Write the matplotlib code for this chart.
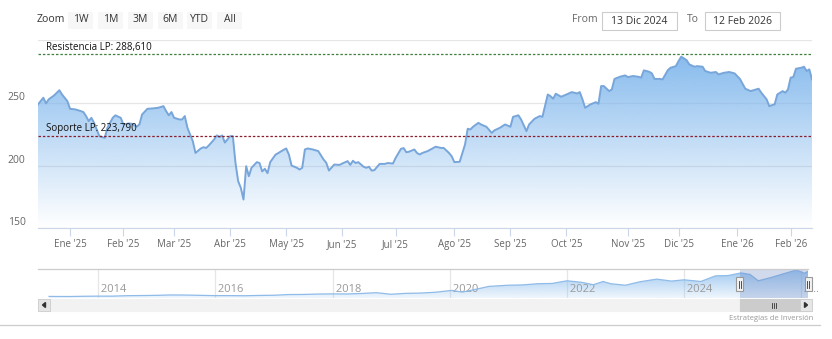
# -*- coding: utf-8 -*-
import matplotlib.pyplot as plt
import matplotlib.dates as mdates
from matplotlib.patches import Rectangle, Polygon
from matplotlib.lines import Line2D
from matplotlib.colors import to_rgb
import numpy as np
import pandas as pd

plt.rcParams['font.family'] = ['Open Sans', 'DejaVu Sans']

W, H = 832, 339

# ventana visible: sesiones bursátiles desde el 13 Dic 2024
start_date = '2024-12-13'
holidays = ['2024-12-25', '2025-01-01', '2025-01-09', '2025-01-20', '2025-02-17',
            '2025-04-18', '2025-05-26', '2025-06-19', '2025-07-04', '2025-09-01',
            '2025-11-27', '2025-12-25', '2026-01-01', '2026-01-19']

# número de sesión (0 = 13 Dic 2024) y cierre
session = [0, 2, 3, 4, 6, 8, 9, 11,                                   # dic
           12, 14, 16, 17, 18, 19, 20, 21, 22, 23, 25, 26, 28, 29, 31,   # ene
           32, 34, 35, 37, 38, 39, 41, 43, 45, 47, 48, 49, 50,           # feb
           51, 53, 54, 55, 56, 58, 59, 61, 62, 63, 64, 66, 67, 68, 69, 70,  # mar
           72, 73, 74, 75, 76, 77, 78, 79, 80, 82, 83, 84, 85, 86, 87, 89, 90, 92,  # abr
           93, 94, 95, 97, 98, 99, 100, 101, 103, 105, 107, 108, 109, 111,  # may
           113, 114, 116, 117, 118, 119, 120, 122, 123, 124, 125, 126, 128, 130, 131, 133,  # jun
           134, 136, 137, 138, 139, 141, 142, 143, 144, 146, 149, 151, 152, 154, 155,  # jul
           156, 158, 160, 161, 162, 163, 165, 166, 168, 170, 171, 173, 175,  # ago
           177, 178, 180, 181, 183, 184, 186, 188, 189, 191, 192, 193, 194, 196,  # sep
           198, 200, 202, 203, 204, 205, 207, 209, 210, 211, 212, 214, 215, 216, 218,  # oct
           220, 221, 223, 225, 226, 227, 229, 230, 231, 233, 234, 236, 237, 239,  # nov
           240, 241, 243, 244, 246, 247, 249, 250, 252, 254, 255, 257, 259, 261,  # dic
           263, 265, 267, 270, 271, 273, 274, 275, 276, 277, 279, 280, 281,  # ene
           282, 283, 284, 286, 287, 288, 289, 290]                        # feb
close = [248.7, 254.0, 249.5, 252.7, 255.8, 260.0, 256.6, 251.3,
         245.2, 244.7, 243.4, 242.6, 239.4, 235.4, 238.0, 234.0, 228.7, 223.4, 222.0, 230.0, 238.0, 240.0, 238.0,
         232.7, 233.5, 233.3, 231.0, 232.7, 240.7, 245.2, 245.5, 246.0, 247.3, 243.4, 240.0, 242.6,
         238.0, 236.7, 236.7, 239.4, 230.0, 219.4, 210.0, 213.6, 214.6, 214.0, 216.0, 220.8, 224.0, 222.7, 224.0, 218.3,
         223.4, 223.4, 202.0, 187.5, 182.2, 172.9, 199.5, 191.5, 198.2, 202.7, 202.0, 195.3, 197.4, 193.9, 202.7, 208.7, 209.9, 212.5,
         213.6, 208.8, 200.0, 198.2, 196.8, 198.2, 212.8, 213.6, 212.8, 211.5, 204.8, 202.2, 196.0, 200.8,
         200.5, 201.6, 203.5, 200.5, 203.8, 202.0, 202.7, 199.0, 198.2, 199.0, 196.0, 196.3, 201.3, 201.3, 202.0, 201.6,
         206.1, 213.3, 213.9, 210.6, 211.0, 212.8, 210.0, 208.8, 210.0, 211.5, 215.0, 214.0, 214.0, 210.0, 207.4,
         202.7, 203.0, 216.8, 229.3, 228.7, 230.9, 234.0, 232.7, 230.9, 226.0, 228.0, 230.0, 232.7,
         230.9, 238.8, 240.0, 236.7, 227.4, 232.7, 237.2, 239.4, 238.8, 256.6, 255.3, 253.2, 257.2, 254.8,
         256.6, 258.5, 257.4, 258.5, 252.7, 246.0, 248.7, 250.5, 249.2, 263.3, 263.3, 259.3, 260.6, 269.0, 270.7,
         271.8, 270.5, 271.3, 270.7, 270.0, 275.8, 274.7, 273.4, 269.0, 269.0, 268.6, 276.0, 277.9, 279.2,
         283.2, 286.7, 284.0, 280.6, 278.7, 279.2, 278.7, 275.3, 273.9, 274.5, 272.6, 273.9, 274.5, 273.4,
         269.0, 261.2, 259.3, 261.2, 258.0, 252.7, 247.3, 248.1, 248.7, 256.6, 259.3, 258.0, 260.6,
         270.0, 270.5, 277.1, 277.9, 278.7, 275.3, 276.6, 268.6]

resistance = 288.61
support = 223.79

month_starts = ['2025-01-01', '2025-02-01', '2025-03-01', '2025-04-01', '2025-05-01',
                '2025-06-01', '2025-07-01', '2025-08-01', '2025-09-01', '2025-10-01',
                '2025-11-01', '2025-12-01', '2026-01-01', '2026-02-01']
month_labels = ["Ene '25", "Feb '25", "Mar '25", "Abr '25", "May '25", "Jun '25", "Jul '25",
                "Ago '25", "Sep '25", "Oct '25", "Nov '25", "Dic '25", "Ene '26", "Feb '26"]

# navegador: histórico completo
nav_dates = ['2013-03-01', '2013-07-01', '2013-10-01', '2014-01-01', '2014-04-01', '2014-07-01',
             '2014-10-01', '2015-01-01', '2015-04-01', '2015-07-01', '2015-10-01', '2016-01-01',
             '2016-04-01', '2016-07-01', '2016-10-01', '2017-01-01', '2017-04-01', '2017-07-01',
             '2017-10-01', '2018-01-01', '2018-04-01', '2018-07-01', '2018-10-01', '2019-01-01',
             '2019-04-01', '2019-07-01', '2019-10-01', '2020-01-15', '2020-03-20', '2020-07-01',
             '2020-09-01', '2021-01-01', '2021-04-01', '2021-07-01', '2021-10-01', '2022-01-01',
             '2022-04-01', '2022-06-15', '2022-08-15', '2022-10-01', '2023-01-01', '2023-04-01',
             '2023-07-15', '2023-10-15', '2024-01-01', '2024-04-15', '2024-07-15', '2024-10-01',
             '2024-12-20', '2025-02-15', '2025-04-08', '2025-07-01', '2025-09-20', '2025-12-02',
             '2026-01-20', '2026-02-12']
nav_close = [16, 15, 17.5, 19, 19, 23.5, 25, 27, 31, 30, 27, 24, 24, 23, 26, 28, 35, 36,
             40, 42, 41, 46, 54, 38, 47, 50, 58, 77, 60, 95, 118, 130, 133, 145, 148, 175,
             160, 135, 168, 145, 130, 165, 192, 172, 185, 168, 225, 228, 255, 240, 175, 210,
             250, 285, 252, 270]
nav_years = ['2014', '2016', '2018', '2020', '2022', '2024', '2026']
nav_year_labels = ['2014', '2016', '2018', '2020', '2022', '2024', '2…']
zoom_buttons = ['1W', '1M', '3M', '6M', 'YTD', 'All']
date_from = '13 Dic 2024'
date_to = '12 Feb 2026'


def fx(px):
    return px / W


def fy(py):
    return 1 - py / H


def fig_box(fig, x0, y0, x1, y1, fc, ec='none', lw=0.8, z=2):
    r = Rectangle((fx(x0), fy(y1)), (x1 - x0) / W, (y1 - y0) / H, transform=fig.transFigure,
                  facecolor=fc, edgecolor=ec, linewidth=lw, zorder=z)
    fig.add_artist(r)
    return r


def gradient_area(ax, x, y, base, top, color, top_alpha, bottom_alpha=0.0):
    poly = ax.fill_between(x, y, base, facecolor='none', edgecolor='none')
    grad = np.zeros((256, 1, 4))
    grad[:, 0, :3] = to_rgb(color)
    grad[:, 0, 3] = np.linspace(bottom_alpha, top_alpha, 256)
    im = ax.imshow(grad, extent=[min(x), max(x), base, top], origin='lower',
                   aspect='auto', zorder=1, interpolation='bilinear')
    im.set_clip_path(poly.get_paths()[0], transform=ax.transData)


fig = plt.figure(figsize=(W / 100, H / 100), dpi=100)
fig.patch.set_facecolor('white')

# ---- barra superior: zoom y rango de fechas
fig.text(fx(37), fy(20), 'Zoom', color='#333333', fontsize=7.5, ha='left', va='center')
for i, lab in enumerate(zoom_buttons):
    x0 = 68 + i * 30 - (1 if i >= 4 else 0)
    fig_box(fig, x0, 12, x0 + 25, 29, '#f7f7f7')
    fig.text(fx(x0 + 12.5), fy(20), lab, color='#333333', fontsize=7.5, ha='center', va='center')

fig.text(fx(572), fy(20), 'From', color='#666666', fontsize=7.5, ha='left', va='center')
fig_box(fig, 602, 12, 677, 30, 'white', ec='#cccccc')
fig.text(fx(639.5), fy(21), date_from, color='#333333', fontsize=7.5, ha='center', va='center')
fig.text(fx(687), fy(20), 'To', color='#666666', fontsize=7.5, ha='left', va='center')
fig_box(fig, 705, 12, 780, 30, 'white', ec='#cccccc')
fig.text(fx(742.5), fy(21), date_to, color='#333333', fontsize=7.5, ha='center', va='center')

# ---- gráfico principal
ax = fig.add_axes([fx(38), fy(228.3), 774 / W, 188.3 / H])
gradient_area(ax, session, close, 150, 300, '#7cb5ec', 1.0)
ax.plot(session, close, color='#78a6da', lw=1.4, zorder=3, solid_joinstyle='round')

ax.axhline(resistance, color='#3f7f3f', lw=0.9, ls=(0, (2, 1.5)), zorder=4)
ax.axhline(support, color='#8b1c2c', lw=0.9, ls=(0, (2, 1.5)), zorder=4)
ax.text(3, resistance + 1.2, 'Resistencia LP: 288,610', fontsize=7, color='#111111',
        va='bottom', ha='left', zorder=5)
ax.text(3, support + 1.2, 'Soporte LP: 223,790', fontsize=7, color='#111111',
        va='bottom', ha='left', zorder=5)

ax.set_xlim(session[0], session[-1])
ax.set_ylim(150, 300)
tick_pos = np.busday_count(start_date, month_starts, holidays=holidays)
ax.set_xticks(tick_pos)
ax.set_xticklabels(month_labels)
ax.set_yticks([150, 200, 250, 300])
ax.set_yticklabels(['150', '200', '250', ''])
for lab in ax.get_yticklabels():
    lab.set_verticalalignment('bottom')
ax.tick_params(axis='x', length=6, color='#ccd6eb', labelcolor='#666666', labelsize=7, pad=2)
ax.tick_params(axis='y', length=0, labelcolor='#666666', labelsize=7.5, pad=9)
ax.grid(axis='y', color='#e6e6e6', lw=0.9)
ax.set_axisbelow(True)
for s in ['top', 'right', 'left']:
    ax.spines[s].set_visible(False)
ax.spines['bottom'].set_color('#ccd6eb')
ax.spines['bottom'].set_zorder(6)

# ---- navegador
nd = mdates.date2num(pd.to_datetime(nav_dates))
axn = fig.add_axes([fx(38), fy(298), 770 / W, 29 / H])
gradient_area(axn, nd, nav_close, 0, 295, '#7cb5ec', 0.75, 0.12)
axn.plot(nd, nav_close, color='#8fbbe8', lw=0.9, zorder=3)
axn.set_xlim(mdates.date2num(pd.Timestamp('2012-12-22')), nd[-1])
axn.set_ylim(0, 295)
axn.set_xticks([])
axn.set_yticks([])
for s in axn.spines.values():
    s.set_visible(False)
for yr, lab in zip(nav_years, nav_year_labels):
    xv = mdates.date2num(pd.Timestamp(yr + '-01-01'))
    axn.axvline(xv, color='#e6e6e6', lw=0.9, zorder=0)
    axn.text(xv, 0.1, ' ' + lab, transform=axn.get_xaxis_transform(), fontsize=8,
             color='#999999', ha='left', va='bottom', zorder=2)
fig.add_artist(Line2D([fx(38), fx(808)], [fy(269), fy(269)], color='#cccccc', lw=0.9,
                      transform=fig.transFigure))

sel0 = mdates.date2num(pd.Timestamp(date_from.replace('Dic', 'Dec')))
sel1 = mdates.date2num(pd.Timestamp(date_to))
axn.axvspan(sel0, sel1, color=(102 / 255, 133 / 255, 194 / 255), alpha=0.3, lw=0, zorder=4)
px0 = axn.transData.transform((sel0, 0))[0]
px1 = axn.transData.transform((sel1, 0))[0]
for hx in [px0, px1]:
    fig_box(fig, hx - 3.5, 277, hx + 3.5, 291, '#f2f2f2', ec='#999999', lw=0.8, z=5)
    for dx in [-1, 1]:
        fig.add_artist(Line2D([fx(hx + dx), fx(hx + dx)], [fy(280.5), fy(287.5)],
                              color='#333333', lw=0.6, transform=fig.transFigure, zorder=6))

# ---- barra de desplazamiento
fig_box(fig, 38, 299, 812, 311, '#f2f2f2', ec='#f2f2f2')
fig_box(fig, px0, 299, px1, 311, '#cccccc', ec='#cccccc', z=3)
for dx in [-2, 0, 2]:
    fig.add_artist(Line2D([fx((px0 + px1) / 2 + dx)] * 2, [fy(302.5), fy(307.5)],
                          color='#333333', lw=0.6, transform=fig.transFigure, zorder=4))
fig_box(fig, 38, 299, 50, 311, '#e6e6e6', ec='#cccccc', lw=0.6, z=3)
fig_box(fig, 800, 299, 812, 311, '#e6e6e6', ec='#cccccc', lw=0.6, z=3)
fig.add_artist(Polygon([[fx(42.5), fy(305)], [fx(45.5), fy(302.5)], [fx(45.5), fy(307.5)]],
                       closed=True, transform=fig.transFigure, color='#333333', zorder=4))
fig.add_artist(Polygon([[fx(807.5), fy(305)], [fx(804.5), fy(302.5)], [fx(804.5), fy(307.5)]],
                       closed=True, transform=fig.transFigure, color='#333333', zorder=4))

fig.text(fx(813), fy(318), 'Estrategias de Inversión', ha='right', va='center',
         fontsize=5.5, color='#999999')
fig.add_artist(Line2D([0, fx(820)], [fy(325), fy(325)], color='#cccccc', lw=0.9,
                      transform=fig.transFigure))

fig.savefig('out.png', dpi=100, facecolor='white')
